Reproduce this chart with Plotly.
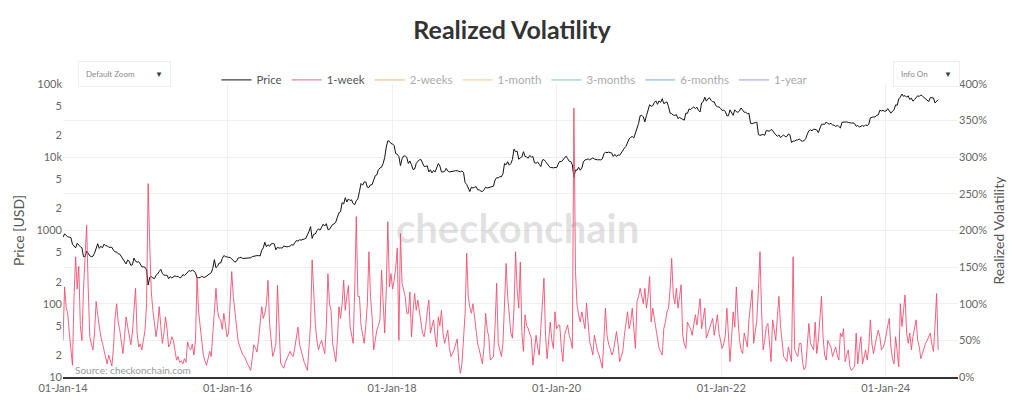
import pandas as pd
import plotly.graph_objects as go

# ---------------- data (weekly, starting 2014-01-01) ----------------
start_date = "2014-01-01"

price_usd = [
    # 2014
    810, 900, 860, 820, 810, 800, 650, 610, 580, 670, 630, 600, 580, 440, 440, 520, 490, 450, 440, 445, 490, 575, 660, 570, 610, 580,
    650, 620, 620, 590, 585, 590, 540, 510, 510, 480, 475, 440, 410, 380, 350, 395, 380, 335, 340, 420, 380, 370, 375, 350, 320, 320,
    # 2015
    315, 290, 180, 230, 235, 225, 220, 245, 255, 275, 295, 260, 245, 245, 245, 220, 235, 225, 235, 240, 235, 237, 225, 230, 250, 243,
    255, 270, 285, 277, 288, 280, 265, 225, 225, 228, 238, 230, 230, 237, 244, 255, 265, 305, 400, 310, 325, 360, 360, 415, 455, 440,
    # 2016
    430, 430, 430, 410, 385, 370, 380, 420, 425, 430, 415, 415, 418, 416, 422, 424, 440, 448, 447, 454, 454, 450, 535, 580, 690, 600,
    640, 610, 655, 665, 655, 545, 590, 575, 580, 575, 615, 608, 597, 605, 612, 640, 630, 680, 730, 715, 745, 740, 745, 765, 780, 860,
    # 2017
    975, 1130, 780, 890, 895, 990, 1055, 1010, 1120, 1220, 1150, 1240, 1030, 1040, 1120, 1210, 1230, 1310, 1520, 1750, 1800, 2400, 2300, 2800, 2450, 2700,
    2570, 2620, 2330, 2250, 2550, 2700, 3420, 4380, 4150, 4600, 4600, 3900, 3870, 4200, 4220, 4830, 5580, 5740, 6750, 7130, 7300, 8200, 9900, 13800, 16800, 16500,
    # 2018
    15400, 15200, 14400, 11200, 11000, 10200, 7700, 9500, 10400, 10400, 10000, 8200, 8900, 7900, 6800, 6900, 8200, 8800, 9200, 9300, 8300, 7500, 7500, 7650, 6300, 6750,
    6100, 6600, 6300, 7350, 8200, 7600, 6300, 6300, 6400, 7050, 6500, 6300, 6400, 6450, 6500, 6550, 6550, 6450, 6330, 6500, 6200, 4500, 4250, 3800, 3400, 3900,
    # 2019
    3800, 3900, 3970, 3600, 3580, 3450, 3400, 3600, 3900, 3800, 3870, 3860, 4020, 4030, 4900, 5270, 5230, 5440, 5400, 5950, 8200, 7900, 8700, 7800, 8200, 9300,
    12900, 11900, 12100, 9400, 9800, 10100, 11900, 10300, 10100, 9700, 10600, 10100, 10200, 8400, 8300, 8600, 8000, 7450, 9150, 9300, 8750, 8100, 7500, 7200, 7250, 7150,
    # 2020
    7250, 7200, 8050, 8800, 8650, 9300, 9600, 10350, 9600, 8800, 8750, 7900, 5300, 6700, 6650, 7300, 6650, 7100, 8650, 9200, 9300, 9500, 9200, 9650, 9800, 9450,
    9300, 9230, 9250, 9200, 9500, 11100, 11750, 11550, 11750, 11450, 11400, 10250, 10950, 10250, 10780, 10600, 11430, 12800, 13300, 14100, 15700, 17800, 18700, 19200, 18300, 21300,
    # 2021
    23200, 28900, 36800, 37400, 35500, 30400, 36900, 44800, 52100, 49700, 50500, 55900, 58900, 52800, 58800, 56000, 63000, 54000, 54900, 57000, 49000, 40000, 39300, 37600, 37300, 38100,
    33700, 35000, 33900, 32800, 32100, 40000, 39700, 45600, 44700, 47000, 48800, 46100, 48100, 43600, 41500, 55300, 57400, 66000, 58400, 62900, 64900, 60000, 57100, 57200, 50600, 48900,
    # 2022
    48600, 46500, 43500, 43900, 42400, 36800, 36900, 44400, 40500, 37300, 44400, 41900, 41100, 42900, 47100, 43200, 41100, 41400, 39200, 39700, 29000, 28700, 29500, 29800, 30100, 20400,
    19900, 20100, 20500, 19900, 23200, 22900, 22600, 23900, 23300, 21500, 20000, 19300, 20200, 18500, 19400, 20100, 19150, 19100, 20800, 20200, 15900, 16600, 16600, 17150, 17200, 17800,
    # 2023
    16800, 16550, 16850, 18000, 20700, 23000, 23700, 22900, 24300, 24200, 23600, 21700, 24800, 28200, 28300, 28100, 30300, 28800, 28400, 29000, 27600, 27400, 26300, 27200, 26300, 25100,
    30000, 30100, 30500, 30400, 29900, 29300, 29200, 29500, 28700, 26400, 27300, 25800, 26200, 27100, 26400, 27800, 26800, 28300, 34500, 35400, 35600, 35500, 37400, 37800, 43800, 42900,
    # 2024
    43600, 42500, 42800, 46100, 42700, 40000, 42600, 44300, 51800, 51300, 62500, 66100, 73100, 67900, 69500, 66000, 69100, 61300, 64300, 58300, 61200, 66300, 69100, 67600,
    71100, 68200, 65000, 61800, 60200, 57700, 65100, 65400, 64600, 55100, 58700, 61100,
]

vol_1week = [
    # 2014
    50, 123, 95, 87, 60, 35, 16, 110, 164, 120, 151, 70, 50, 120, 169, 207, 120, 55, 45, 37, 60, 103, 85, 69, 55, 46,
    35, 25, 18, 30, 22, 15, 40, 80, 100, 75, 64, 45, 32, 55, 82, 69, 55, 44, 60, 90, 121, 60, 41, 45, 37, 50,
    # 2015
    64, 100, 264, 180, 116, 91, 75, 55, 70, 96, 70, 46, 60, 82, 65, 41, 45, 55, 50, 35, 23, 28, 20, 22, 18, 25,
    20, 48, 40, 37, 45, 30, 50, 137, 90, 69, 45, 30, 22, 16, 25, 35, 28, 60, 100, 121, 91, 80, 78, 65, 87, 70,
    # 2016
    55, 60, 100, 144, 110, 91, 65, 50, 42, 37, 30, 28, 22, 18, 14, 9, 25, 44, 40, 34, 50, 75, 96, 80, 87, 100,
    132, 73, 45, 28, 35, 46, 125, 60, 19, 15, 12, 20, 25, 28, 35, 30, 28, 40, 55, 68, 45, 35, 28, 20, 15, 9,
    # 2017
    40, 73, 160, 110, 73, 50, 37, 45, 50, 40, 32, 70, 141, 100, 91, 46, 30, 21, 50, 96, 80, 100, 132, 91, 110, 125,
    70, 55, 46, 120, 219, 110, 110, 70, 55, 46, 70, 100, 171, 110, 82, 37, 50, 64, 70, 78, 146, 90, 60, 120, 212, 123,
    # 2018
    141, 120, 132, 150, 176, 50, 196, 128, 120, 110, 87, 87, 116, 55, 90, 114, 91, 105, 90, 73, 60, 55, 69, 90, 105, 60,
    70, 78, 55, 41, 82, 70, 91, 60, 46, 55, 64, 40, 28, 32, 37, 45, 52, 20, 5, 18, 60, 87, 169, 110, 95, 87,
    # 2019
    100, 80, 64, 45, 37, 25, 18, 41, 87, 65, 55, 23, 25, 28, 70, 128, 46, 35, 28, 46, 100, 155, 110, 80, 60, 53,
    94, 171, 120, 94, 157, 60, 35, 85, 70, 66, 60, 53, 16, 35, 57, 40, 30, 66, 100, 135, 57, 25, 50, 75, 50, 39,
    # 2020
    89, 66, 70, 71, 40, 21, 57, 65, 71, 57, 50, 39, 367, 144, 98, 85, 75, 89, 75, 66, 101, 70, 48, 40, 30, 57,
    45, 35, 30, 20, 12, 50, 94, 57, 45, 39, 30, 35, 48, 62, 45, 21, 28, 35, 57, 70, 89, 66, 75, 94, 60, 39,
    # 2021
    103, 110, 121, 112, 100, 121, 94, 110, 137, 75, 94, 80, 66, 50, 39, 35, 30, 66, 75, 89, 94, 120, 162, 112, 100, 121,
    94, 110, 126, 57, 45, 39, 75, 70, 66, 57, 70, 85, 71, 90, 107, 66, 80, 94, 53, 60, 66, 75, 80, 57, 70, 85,
    # 2022
    60, 48, 39, 45, 57, 94, 60, 21, 55, 89, 68, 123, 82, 50, 37, 32, 60, 50, 41, 78, 100, 119, 46, 64, 78, 120,
    171, 91, 37, 50, 69, 73, 40, 21, 78, 60, 50, 82, 110, 70, 46, 28, 25, 21, 41, 30, 21, 164, 37, 32, 28, 46,
    # 2023
    46, 20, 10, 14, 45, 73, 46, 40, 37, 75, 32, 50, 82, 110, 55, 30, 23, 50, 45, 41, 28, 35, 41, 30, 23, 60,
    55, 66, 21, 30, 37, 14, 9, 12, 14, 60, 18, 40, 55, 18, 30, 37, 23, 41, 78, 45, 32, 46, 55, 64, 55, 37,
    # 2024
    40, 46, 60, 70, 80, 41, 25, 18, 55, 30, 14, 100, 69, 90, 112, 60, 46, 60, 37, 55, 69, 78, 50, 41,
    25, 32, 40, 46, 50, 55, 60, 45, 35, 70, 114, 37,
]

hidden_series = ["2-weeks", "1-month", "3-months", "6-months", "1-year"]
hidden_colors = ["#ee9a45", "#f0b872", "#3cc888", "#3f8fe8", "#8a70ea"]

x_tick_dates = ["2014-01-01", "2016-01-01", "2018-01-01", "2020-01-01", "2022-01-01", "2024-01-01"]
x_range = ["2014-01-01", "2024-11-17"]
price_ticks = [10, 20, 50, 100, 200, 500, 1000, 2000, 5000, 10000, 20000, 50000, 100000]
price_tick_text = ["10", "2", "5", "100", "2", "5", "1000", "2", "5", "10k", "2", "5", "100k"]
vol_ticks = [0, 50, 100, 150, 200, 250, 300, 350, 400]
vol_tick_text = [f"{v}%" for v in vol_ticks]

dates = pd.date_range(start_date, periods=len(price_usd), freq="7D")

FONT = "Lato, 'Open Sans', sans-serif"

fig = go.Figure()
fig.add_trace(go.Scatter(x=dates, y=price_usd, name="Price", mode="lines",
                         line=dict(color="#111111", width=1), yaxis="y"))
fig.add_trace(go.Scatter(x=dates, y=vol_1week, name="1-week", mode="lines",
                         line=dict(color="rgba(240,70,105,0.85)", width=1), yaxis="y2"))
for nm, col in zip(hidden_series, hidden_colors):
    fig.add_trace(go.Scatter(x=[dates[0]], y=[None], name=nm, mode="lines", visible="legendonly",
                             showlegend=True, line=dict(color=col, width=1.5), yaxis="y2"))

dropdown_style = dict(xref="paper", yref="paper", showarrow=False, bgcolor="white",
                      bordercolor="#eeeeee", borderwidth=1, borderpad=7,
                      font=dict(family=FONT, size=8, color="#888888"),
                      yanchor="middle", xanchor="left")

fig.update_layout(
    width=1024, height=400,
    margin=dict(l=63, r=66, t=84, b=23, autoexpand=False),
    paper_bgcolor="white", plot_bgcolor="white",
    font=dict(family=FONT, color="#666666", size=11),
    title=dict(text="<b>Realized Volatility</b>", x=0.5, xanchor="center",
               y=0.925, yanchor="middle", yref="container",
               font=dict(family=FONT, size=25, color="#333333")),
    showlegend=True,
    legend=dict(orientation="h", x=0.505, xanchor="center", y=1.014, yanchor="middle",
                font=dict(family=FONT, size=11.5, color="#555555"),
                bgcolor="rgba(0,0,0,0)", itemwidth=30, tracegroupgap=0),
    xaxis=dict(type="date", range=x_range, tickvals=x_tick_dates, tickformat="%d-%b-%y",
               showgrid=True, gridcolor="#f0f0f0", showline=True, linecolor="#333333",
               linewidth=2, ticks="", tickfont=dict(size=11, color="#666666"), zeroline=False),
    yaxis=dict(type="log", range=[1, 5], tickvals=price_ticks, ticktext=price_tick_text,
               showgrid=False, zeroline=False, ticks="",
               title=dict(text="Price [USD]", font=dict(size=14, color="#555555"), standoff=8),
               tickfont=dict(size=11, color="#666666")),
    yaxis2=dict(overlaying="y", side="right", range=[0, 400], tickvals=vol_ticks,
                ticktext=vol_tick_text, showgrid=True, gridcolor="#f0f0f0", zeroline=False, ticks="",
                title=dict(text="Realized Volatility", font=dict(size=14, color="#555555"), standoff=8),
                tickfont=dict(size=11, color="#666666")),
    annotations=[
        dict(text="<b>checkonchain</b>", xref="paper", yref="paper", x=0.508, y=0.51,
             xanchor="center", yanchor="middle", showarrow=False,
             font=dict(family=FONT, size=40, color="rgba(150,150,150,0.28)")),
        dict(text="Source: checkonchain.com", xref="paper", yref="paper", x=0.011, y=0.024,
             xanchor="left", yanchor="middle", showarrow=False,
             font=dict(family=FONT, size=10, color="#999999")),
        dict(text="Default Zoom&nbsp;&nbsp;&nbsp;&nbsp;&nbsp;&nbsp;&nbsp;&nbsp;&nbsp;&nbsp;<span style='color:#2a3f5f'>▼</span>",
             x=0.017, y=1.035, **dropdown_style),
        dict(text="Info On&nbsp;&nbsp;&nbsp;&nbsp;&nbsp;&nbsp;&nbsp;&nbsp;<span style='color:#2a3f5f'>▼</span>",
             x=0.927, y=1.035, **dropdown_style),
    ],
)

fig.write_html("out.html", config={"displayModeBar": False},
               post_script="document.body.style.margin='0';")
